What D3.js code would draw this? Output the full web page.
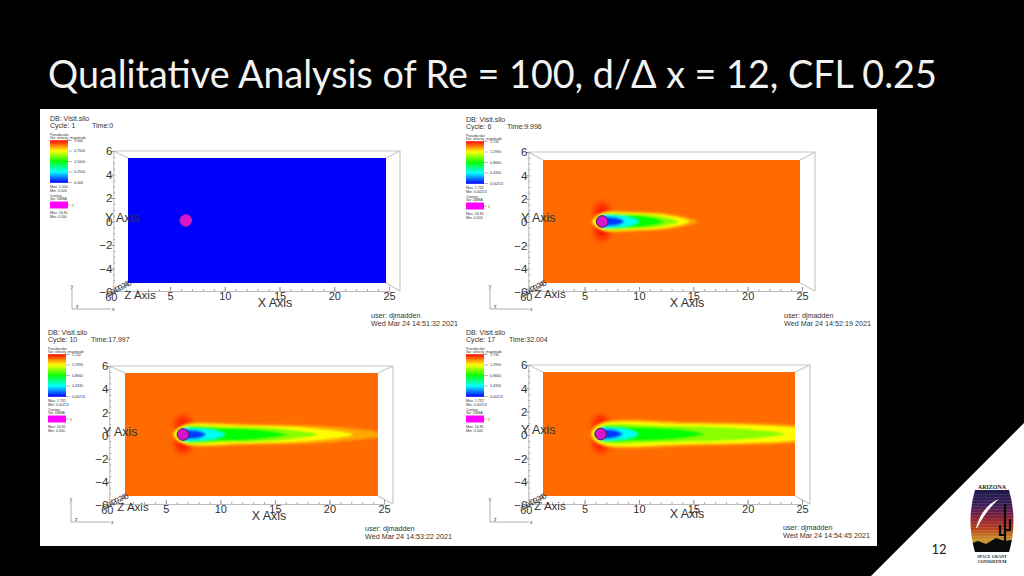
<!DOCTYPE html>
<html>
<head>
<meta charset="utf-8">
<style>
  html, body { margin: 0; padding: 0; background: #000; overflow: hidden; }
  svg { display: block; }
  text { font-family: "Liberation Sans", sans-serif; fill: #333; }
</style>
<script src="https://cdnjs.cloudflare.com/ajax/libs/d3/7.8.5/d3.min.js"></script>
</head>
<body>
<svg id="slide" width="1024" height="576"></svg>
<script>
// values, one entry per frame
const cycles = [1, 6, 10, 17];
const times = ["0", "9.996", "17.997", "32.004"];
const stamps = ["Wed Mar 24 14:51:32 2021", "Wed Mar 24 14:52:19 2021", "Wed Mar 24 14:53:22 2021", "Wed Mar 24 14:54:45 2021"];
const maxLabels = ["1.000", "1.732", "1.732", "1.732"];
const minLabels = ["0.000", "0.00213", "0.00213", "0.00213"];
const freestream = [0, 1.55, 1.55, 1.55];
const cylinderX = [5.6, 5.75, 5.73, 5.72];
const cylinderY = [0, 0, 0, 0];
// wake speed levels and how far each contour reaches downstream (x) and across (half width)
const wakeLevels = [1.45, 1.3, 1.1, 0.87, 0.45, 0.1];
const wakeEnds = [
  [],
  [15.0, 14.2, 13.2, 11.8, 9.3, 7.9],
  [26, 22.5, 19, 16, 9.8, 8.0],
  [32, 30, 24, 16, 9.4, 7.9]
];
const wakeHalves = [
  [],
  [0.95, 0.82, 0.72, 0.66, 0.58, 0.45],
  [1.0, 0.86, 0.74, 0.66, 0.58, 0.45],
  [1.15, 0.96, 0.78, 0.66, 0.58, 0.45]
];
const xTicks = [5, 10, 15, 20, 25];
const yTicks = [6, 4, 2, 0, -2, -4, -6];

// where each frame sits on the slide
const plotBoxes = [[128, 158, 386, 283], [543, 160, 800, 283], [125, 373, 378, 496], [543, 372, 795, 496]];
const axisX = [[115.3, 389], [530.3, 802], [111.3, 384], [530.3, 802]];
const axisY = [[292, 151], [292, 152], [505, 366], [505, 365]];
const boxRight = [400, 815, 393, 810];
const legendPos = [[50, 119], [466, 120], [48, 333], [466, 333]];
const timeX = [92, 507, 91, 509];
const stampPos = [[371, 316], [784, 316], [365, 529], [783, 528]];
const triadX = [72, 490, 71, 490];
const xTitle = [[275, 303], [687, 303], [269, 516], [687, 514]];
const zTitle = [[140, 295], [550, 294], [133, 507], [550, 506]];
const yTitle = [[105, 218], [521, 218], [103, 432], [521, 430]];

const svg = d3.select("#slide");
const defs = svg.append("defs");
defs.append("filter").attr("id", "soft").attr("x", "-20%").attr("y", "-50%").attr("width", "140%").attr("height", "200%")
  .append("feGaussianBlur").attr("stdDeviation", 1.25);
defs.append("filter").attr("id", "softer").attr("x", "-100%").attr("y", "-100%").attr("width", "300%").attr("height", "300%")
  .append("feGaussianBlur").attr("stdDeviation", 3.5);

const rainbow = d3.scaleLinear()
  .domain([0, 0.433, 0.866, 1.299, 1.732])
  .range(["#0000ff", "#00ffff", "#00ff00", "#ffff00", "#ff0000"])
  .clamp(true);

svg.append("rect").attr("width", 1024).attr("height", 576).attr("fill", "#000");
svg.append("text").attr("x", 48).attr("y", 88).attr("font-size", 37.7)
  .style("font-family", "Lato, sans-serif").style("fill", "#f2f2f2")
  .text("Qualitative Analysis of Re = 100, d/\u0394 x = 12, CFL 0.25");
svg.append("rect").attr("x", 40).attr("y", 109).attr("width", 837).attr("height", 437).attr("fill", "#fff");

const line = d3.line().curve(d3.curveCatmullRomClosed.alpha(0.5));

function wakeOutline(x0, up, end, half) {
  const len = end - x0;
  const top = [[x0, half * 0.95], [x0 + len * 0.35, half], [x0 + len * 0.75, half * 0.72]];
  const bottom = top.slice().reverse().map(d => [d[0], -d[1]]);
  return [[x0 - up, 0], ...top, [end, 0], ...bottom];
}

cycles.forEach((cycle, i) => {
  const g = svg.append("g");
  const [bx0, by0, bx1, by1] = plotBoxes[i];
  const x = d3.scaleLinear().domain([0, 25]).range([bx0, bx1]);
  const y = d3.scaleLinear().domain([-6, 6]).range([by1, by0]);
  const ax = d3.scaleLinear().domain([0, 25]).range(axisX[i]);
  const ay = d3.scaleLinear().domain([-6, 6]).range(axisY[i]);
  const path = line.x(d => x(d[0])).y(d => y(d[1]));

  // bounding box lines of the 3D view
  const fx0 = ax(0) - 2, fy0 = ay(6), fy1 = ay(-6) - 1, fx1 = boxRight[i];
  g.append("path").attr("fill", "none").attr("stroke", "#c8c8c8").attr("stroke-width", 1.2)
    .attr("d", `M${fx0},${fy0}H${fx1}V${fy1}M${fx0},${fy0}L${bx0},${by0}M${fx1},${fy0}L${bx1},${by0}M${fx1},${fy1}L${bx1},${by1}`);

  // field
  const clipId = `plot${i}`;
  defs.append("clipPath").attr("id", clipId).append("rect")
    .attr("x", bx0).attr("y", by0).attr("width", bx1 - bx0).attr("height", by1 - by0);
  g.append("rect").attr("x", bx0).attr("y", by0).attr("width", bx1 - bx0).attr("height", by1 - by0)
    .attr("fill", rainbow(freestream[i]));
  const field = g.append("g").attr("clip-path", `url(#${clipId})`);
  const cx = cylinderX[i], cy = cylinderY[i];
  if (wakeEnds[i].length) {
    field.selectAll("ellipse.lobe").data([1, -1]).join("ellipse")
      .attr("cx", x(cx)).attr("cy", d => y(cy + d * 0.95))
      .attr("rx", 7).attr("ry", 8)
      .attr("fill", rainbow(1.72)).attr("filter", "url(#softer)");
    field.append("g").attr("filter", "url(#soft)")
      .selectAll("path").data(wakeLevels).join("path")
      .attr("fill", d => rainbow(d))
      .attr("d", (d, k) => path(wakeOutline(cx, k < 2 ? 1.0 - k * 0.1 : 0.85 - k * 0.12, wakeEnds[i][k], wakeHalves[i][k])));
  }
  g.append("circle").attr("cx", x(cx)).attr("cy", y(cy)).attr("r", 5.8)
    .attr("fill", "#d616c8").attr("stroke", i ? "#55106a" : "#c020b0").attr("stroke-width", 1);

  // axes, front plane
  const frontY = ay(-6) - 1, frontX = ax(0) - 2;
  const xAxis = d3.axisBottom(ax).tickValues(xTicks).tickSize(1).tickPadding(0);
  const gx = g.append("g").attr("transform", `translate(0,${frontY})`).call(xAxis);
  gx.selectAll("text").attr("font-size", 11).style("fill", "#333");
  gx.select(".domain").attr("stroke", "#bbb");
  gx.selectAll("line").attr("stroke", "#888").attr("y2", -4);
  const gxm = g.append("g").attr("transform", `translate(0,${frontY})`)
    .call(d3.axisBottom(ax).tickValues(d3.range(0, 25.1, 1)).tickSize(-2).tickFormat(""));
  gxm.select(".domain").remove();
  gxm.selectAll("line").attr("stroke", "#aaa");

  const yAxis = d3.axisLeft(ay).tickValues(yTicks).tickSize(2).tickPadding(-1);
  const gy = g.append("g").attr("transform", `translate(${frontX},0)`).call(yAxis);
  gy.selectAll("text").attr("font-size", 11.5).style("fill", "#333");
  gy.select(".domain").attr("stroke", "#bbb");
  gy.selectAll("line").attr("stroke", "#888");
  const gym = g.append("g").attr("transform", `translate(${frontX},0)`)
    .call(d3.axisLeft(ay).tickValues(d3.range(-6, 6.1, 0.5)).tickSize(-2).tickFormat(""));
  gym.select(".domain").remove();
  gym.selectAll("line").attr("stroke", "#aaa");

  // z axis ticks pile up along the short diagonal
  const zs = d3.scaleLinear().domain([6, -6]).range([0, 1]);
  g.append("g").selectAll("text").data(yTicks).join("text")
    .attr("transform", d => `translate(${frontX + (bx0 - frontX) * zs(d) + 1},${frontY + (by1 - frontY) * zs(d) + 3}) rotate(-28)`)
    .attr("font-size", 8).attr("text-anchor", "middle").text(d => d);
  g.append("text").attr("x", frontX - 2).attr("y", frontY + 10).attr("font-size", 11).attr("text-anchor", "middle").text("60");

  // axis titles
  g.append("text").attr("x", xTitle[i][0]).attr("y", xTitle[i][1] + 4).attr("font-size", 12.5).attr("text-anchor", "middle").text("X Axis");
  g.append("text").attr("x", zTitle[i][0]).attr("y", zTitle[i][1] + 4).attr("font-size", 11.5).attr("text-anchor", "middle").text("Z Axis");
  g.append("text").attr("x", yTitle[i][0]).attr("y", yTitle[i][1] + 4).attr("font-size", 12.5).text("Y Axis");

  // header
  const [lx, ly] = legendPos[i];
  g.append("text").attr("x", lx).attr("y", ly + 2).attr("font-size", 7).text("DB: Visit.silo");
  g.append("text").attr("x", lx).attr("y", ly + 9).attr("font-size", 7).text(`Cycle: ${cycle}`);
  g.append("text").attr("x", timeX[i]).attr("y", ly + 9).attr("font-size", 7).text(`Time:${times[i]}`);

  // pseudocolor legend
  const barTop = ly + 21.5, barH = 42, barW = 18;
  const maxV = i ? 1.732 : 1;
  const bar = d3.scaleLinear().domain([0, 1]).range([barTop + barH, barTop]);
  g.append("g").selectAll("rect").data(d3.range(0, 1, 1 / 42)).join("rect")
    .attr("x", lx).attr("width", barW).attr("y", d => bar(d) - barH / 42 - 0.3).attr("height", barH / 42 + 0.6)
    .attr("fill", d => rainbow(d * 1.732));
  g.append("text").attr("x", lx).attr("y", barTop - 5).attr("font-size", 3.4).text("Pseudocolor");
  g.append("text").attr("x", lx).attr("y", barTop - 1.5).attr("font-size", 3.4).text("Var: velocity_magnitude");
  const legendTicks = [0, 0.25, 0.5, 0.75, 1];
  const gl = g.append("g").selectAll("g").data(legendTicks).join("g")
    .attr("transform", d => `translate(${lx + barW},${bar(d)})`);
  gl.append("line").attr("x2", 4).attr("stroke", "#777").attr("stroke-width", 0.5);
  gl.append("text").attr("x", 6).attr("y", 1.3).attr("font-size", 3.6)
    .text(d => (d === 0 ? minLabels[i] : d === 1 ? maxLabels[i] : (d * maxV).toFixed(4)));
  g.append("text").attr("x", lx).attr("y", barTop + barH + 5).attr("font-size", 3.6).text(`Max: ${maxLabels[i]}`);
  g.append("text").attr("x", lx).attr("y", barTop + barH + 9).attr("font-size", 3.6).text(`Min: ${minLabels[i]}`);

  // contour legend
  const cTop = barTop + 61;
  g.append("text").attr("x", lx).attr("y", cTop - 5).attr("font-size", 3.4).text("Contour");
  g.append("text").attr("x", lx).attr("y", cTop - 1.5).attr("font-size", 3.4).text("Var: DMBA");
  g.append("rect").attr("x", lx).attr("y", cTop).attr("width", barW).attr("height", 7).attr("fill", "#ff00ff");
  g.append("line").attr("x1", lx + barW).attr("x2", lx + barW + 3).attr("y1", cTop + 3.5).attr("y2", cTop + 3.5).attr("stroke", "#777").attr("stroke-width", 0.5);
  g.append("text").attr("x", lx + barW + 4).attr("y", cTop + 5).attr("font-size", 3.6).text("1");
  g.append("text").attr("x", lx).attr("y", cTop + 12).attr("font-size", 3.6).text("Max: 16.81");
  g.append("text").attr("x", lx).attr("y", cTop + 16).attr("font-size", 3.6).text("Min: 0.500");

  // user and date
  const [sx, sy] = stampPos[i];
  g.append("text").attr("x", sx).attr("y", sy + 2).attr("font-size", 7.2).text("user: djmadden");
  g.append("text").attr("x", sx).attr("y", sy + 9.5).attr("font-size", 7.2).text(stamps[i]);

  // orientation triad
  const tx = triadX[i], tTop = frontY - 2, tBot = frontY + 18;
  g.append("path").attr("fill", "none").attr("stroke", "#999").attr("stroke-width", 0.8)
    .attr("d", `M${tx},${tTop}V${tBot}H${tx + 39}`);
  g.append("text").attr("x", tx).attr("y", tTop - 1).attr("font-size", 5).attr("text-anchor", "middle").text("y");
  g.append("text").attr("x", tx + 4).attr("y", tBot - 1).attr("font-size", 5).text("z");
  g.append("text").attr("x", tx + 40).attr("y", tBot + 2).attr("font-size", 5).text("x");
});

// slide corner with page number and logo
svg.append("path").attr("d", "M1024,423V576H871Z").attr("fill", "#fff");
svg.append("text").attr("x", 939).attr("y", 554).attr("font-size", 13).attr("text-anchor", "middle")
  .style("font-family", "Lato, sans-serif").style("fill", "#222").text("12");

const grad = defs.append("linearGradient").attr("id", "dusk").attr("x1", 0).attr("x2", 0).attr("y1", 0).attr("y2", 1);
[[0, "#1c1a4a"], [0.25, "#3f1d58"], [0.45, "#8c2038"], [0.62, "#b8401e"], [0.8, "#c8942a"], [1, "#d8a830"]]
  .forEach(d => grad.append("stop").attr("offset", d[0]).attr("stop-color", d[1]));
const barrel = "M975,490H1009Q1018,521 1009,552H975Q966,521 975,490Z";
defs.append("clipPath").attr("id", "barrel").append("path").attr("d", barrel);
const logo = svg.append("g");
logo.append("path").attr("d", barrel).attr("fill", "url(#dusk)");
const stripes = logo.append("g").attr("clip-path", "url(#barrel)");
stripes.selectAll("rect").data(d3.range(494, 540, 3)).join("rect")
  .attr("x", 966).attr("y", d => d).attr("width", 52).attr("height", 0.7).attr("fill", "#fff").attr("opacity", 0.15);
stripes.append("path").attr("d", "M966,553V545L978,541L986,544L996,538L1005,541L1018,539V553Z").attr("fill", "#0a0a0a");
logo.append("path").attr("d", "M976,528Q982,506 999,499Q987,509 977,528Z").attr("fill", "#fff");
logo.append("path").attr("d", "M1005,505V543M1005,535H1000V526M1005,530H1010V520")
  .attr("fill", "none").attr("stroke", "#0a0a0a").attr("stroke-width", 2.2).attr("stroke-linecap", "round");
logo.append("text").attr("x", 992).attr("y", 489).attr("font-size", 6).attr("font-weight", "bold").attr("text-anchor", "middle")
  .style("font-family", "Liberation Serif, serif").style("fill", "#222").text("ARIZONA");
logo.append("text").attr("x", 992).attr("y", 558).attr("font-size", 4.2).attr("font-weight", "bold").attr("text-anchor", "middle")
  .style("font-family", "Liberation Serif, serif").style("fill", "#222").text("SPACE GRANT");
logo.append("text").attr("x", 992).attr("y", 563).attr("font-size", 4.2).attr("font-weight", "bold").attr("text-anchor", "middle")
  .style("font-family", "Liberation Serif, serif").style("fill", "#222").text("CONSORTIUM");
</script>
</body>
</html>
